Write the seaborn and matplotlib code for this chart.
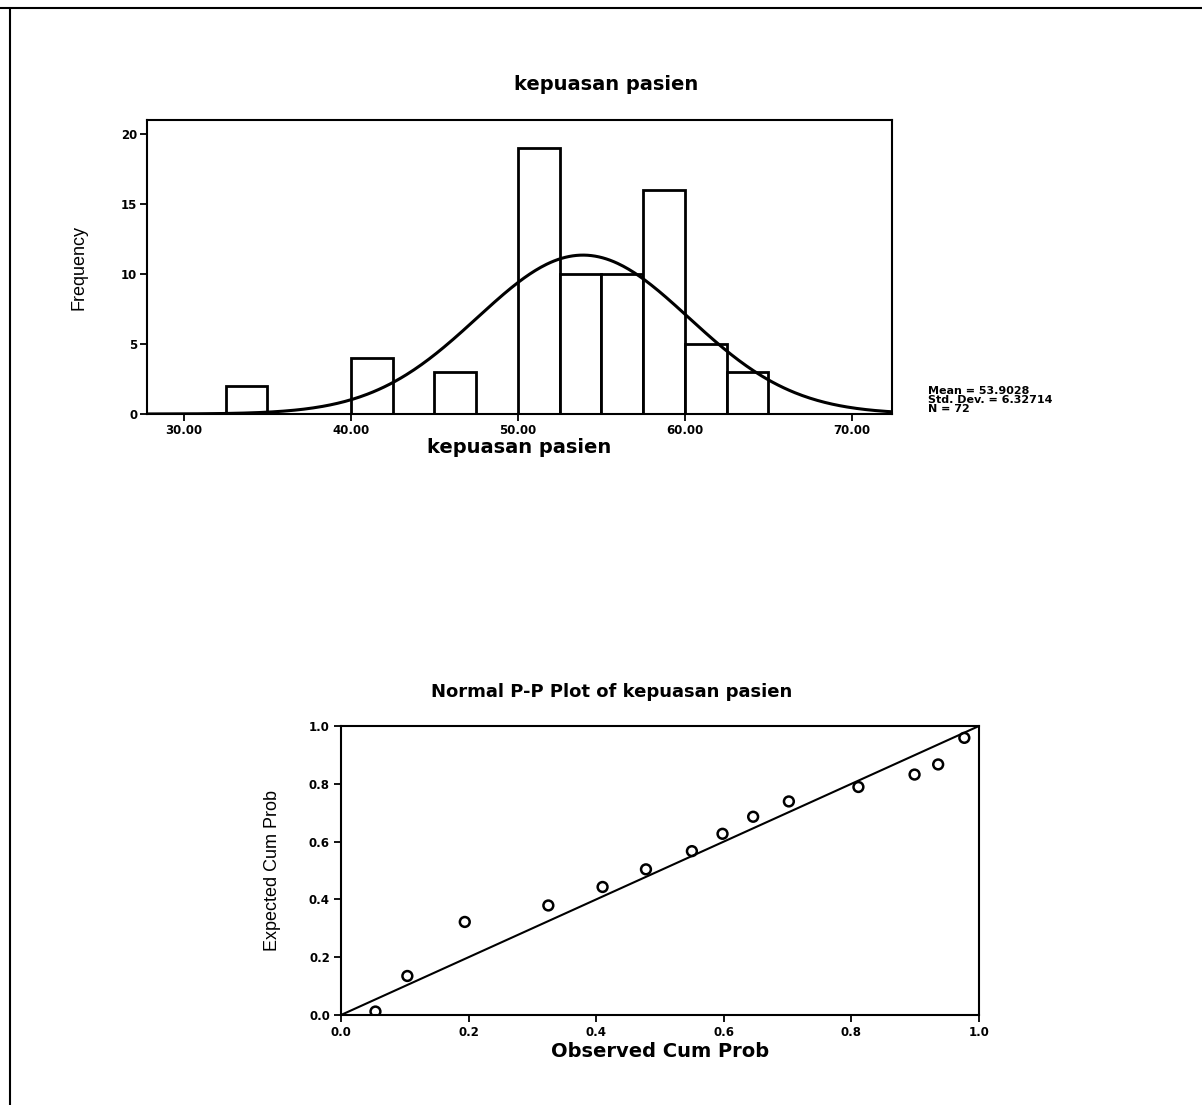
import numpy as np
import pandas as pd
import matplotlib
matplotlib.use("Agg")
import matplotlib.pyplot as plt
import seaborn as sns
from matplotlib.lines import Line2D

# ---------------- data ----------------
bin_edges = [32.5, 35.0, 37.5, 40.0, 42.5, 45.0, 47.5, 50.0, 52.5, 55.0, 57.5, 60.0, 62.5, 65.0]
bin_counts = [2, 0, 0, 4, 0, 3, 0, 19, 10, 10, 16, 5, 3]
stat_mean = 53.9028
stat_sd = 6.32714
stat_n = 72
hist_xticks = [30, 40, 50, 60, 70]
hist_yticks = [0, 5, 10, 15, 20]

pp_observed = [0.054, 0.104, 0.194, 0.325, 0.410, 0.478, 0.550, 0.598, 0.646, 0.702, 0.811, 0.899, 0.936, 0.977]
pp_expected = [0.012, 0.135, 0.322, 0.379, 0.443, 0.504, 0.567, 0.627, 0.686, 0.739, 0.789, 0.832, 0.867, 0.959]
pp_ticks = [0.0, 0.2, 0.4, 0.6, 0.8, 1.0]

# ---------------- style ----------------
sns.set_theme(style="ticks")
plt.rcParams["font.family"] = ["DejaVu Sans"]
plt.rcParams["axes.linewidth"] = 1.5
plt.rcParams["text.color"] = "black"
plt.rcParams["axes.labelcolor"] = "black"
plt.rcParams["xtick.color"] = "black"
plt.rcParams["ytick.color"] = "black"
plt.rcParams["axes.edgecolor"] = "black"

narrow = ["Liberation Sans Narrow", "Liberation Sans", "DejaVu Sans"]

fig = plt.figure(figsize=(12.02, 11.05), dpi=100)
fig.patch.set_facecolor("white")

# page border (top and left)
fig.add_artist(Line2D([0.0, 1.0], [1 - 8 / 1105, 1 - 8 / 1105], color="black", lw=1.5, transform=fig.transFigure))
fig.add_artist(Line2D([10 / 1202, 10 / 1202], [0.0, 1 - 8 / 1105], color="black", lw=1.5, transform=fig.transFigure))

# ---------------- histogram ----------------
ax1 = fig.add_axes([147 / 1202, 1 - 414 / 1105, 745 / 1202, 294 / 1105])
mids = [(bin_edges[i] + bin_edges[i + 1]) / 2 for i in range(len(bin_counts))]
hdf = pd.DataFrame({"value": mids, "count": bin_counts})
sns.histplot(data=hdf, x="value", weights="count", bins=bin_edges, ax=ax1,
             color="white", edgecolor="black", linewidth=2.0, alpha=1.0)

xlo, xhi = 27.8, 72.4
xs = np.linspace(xlo, xhi, 400)
binw = bin_edges[1] - bin_edges[0]
ys = stat_n * binw / (stat_sd * np.sqrt(2 * np.pi)) * np.exp(-0.5 * ((xs - stat_mean) / stat_sd) ** 2)
sns.lineplot(x=xs, y=ys, ax=ax1, color="black", linewidth=2.2)

ax1.set_xlim(xlo, xhi)
ax1.set_ylim(0, 21)
ax1.set_xticks(hist_xticks)
ax1.set_xticklabels([f"{v:.2f}" for v in hist_xticks], fontsize=8.5, fontweight="bold")
ax1.set_yticks(hist_yticks)
ax1.set_yticklabels([str(v) for v in hist_yticks], fontsize=8.5, fontweight="bold")
ax1.tick_params(direction="out", length=5, width=1.3, pad=2)
ax1.set_xlabel("kepuasan pasien", fontsize=14, fontweight="bold", labelpad=1)
ax1.set_ylabel("Frequency", fontsize=13, labelpad=24, family=narrow)
for s in ax1.spines.values():
    s.set_visible(True)
    s.set_linewidth(1.5)
fig.text(606 / 1202, 1 - 84 / 1105, "kepuasan pasien", ha="center", va="center",
         fontsize=14, fontweight="bold")
fig.text(928 / 1202, 1 - 400 / 1105,
         f"Mean = {stat_mean:.4f}\nStd. Dev. = {stat_sd:.5f}\nN = {stat_n}",
         ha="left", va="center", fontsize=8, fontweight="bold", linespacing=0.92)

# ---------------- P-P plot ----------------
ax2 = fig.add_axes([341 / 1202, 1 - 1015 / 1105, 638 / 1202, 289 / 1105])
sns.scatterplot(x=pp_observed, y=pp_expected, ax=ax2, marker="o", s=50,
                facecolor="none", edgecolor="black", linewidth=1.8)
ax2.plot([0, 1], [0, 1], color="black", lw=1.5)
ax2.set_xlim(0, 1)
ax2.set_ylim(0, 1)
ax2.set_xticks(pp_ticks)
ax2.set_xticklabels([f"{v:.1f}" for v in pp_ticks], fontsize=8.5, fontweight="bold")
ax2.set_yticks(pp_ticks)
ax2.set_yticklabels([f"{v:.1f}" for v in pp_ticks], fontsize=8.5, fontweight="bold")
ax2.tick_params(direction="out", length=5, width=1.3, pad=3)
ax2.set_xlabel("Observed Cum Prob", fontsize=14, fontweight="bold", labelpad=2)
ax2.set_ylabel("Expected Cum Prob", fontsize=13, labelpad=20, family=narrow)
for s in ax2.spines.values():
    s.set_visible(True)
    s.set_linewidth(1.5)
fig.text(612 / 1202, 1 - 692 / 1105, "Normal P-P Plot of kepuasan pasien", ha="center",
         va="center", fontsize=13, fontweight="bold")

fig.savefig("out.png", dpi=100, facecolor="white")
